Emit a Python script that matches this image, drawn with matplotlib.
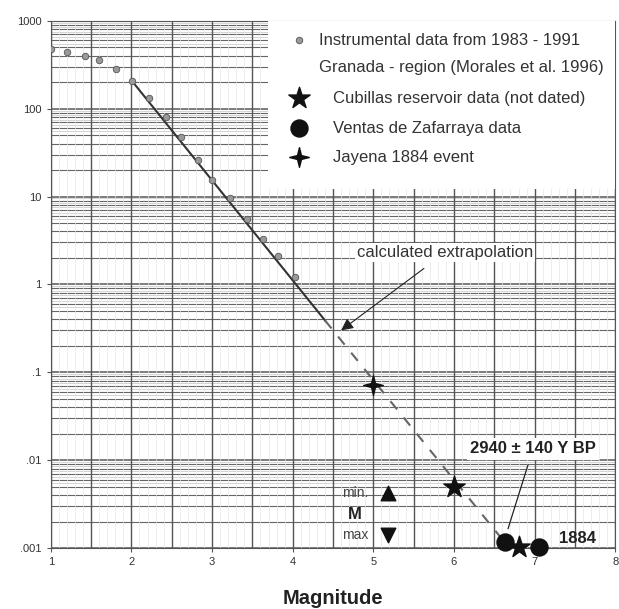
import numpy as np
import matplotlib.pyplot as plt
from matplotlib.patches import Rectangle
from matplotlib.path import Path

plt.rcParams['font.family'] = ['Liberation Sans', 'DejaVu Sans']

# instrumental data (Granada region)
inst_mag = [1.0, 1.2, 1.42, 1.6, 1.81, 2.01, 2.22, 2.43, 2.62, 2.82, 3.0, 3.22, 3.43, 3.63, 3.82, 4.03]
inst_n = [480, 435, 400, 360, 285, 205, 133, 81, 47, 26, 15.5, 9.7, 5.5, 3.3, 2.1, 1.2]

# fitted line and extrapolation
fit_mag = [2.0, 4.4]
fit_n = [210, 0.39]
extrap_mag = [4.4, 6.65]
extrap_n = [0.39, 0.0011]

# paleo data
cubillas_mag = [6.0, 6.8]
cubillas_n = [0.005, 0.00102]
ventas_mag = [6.63, 7.06]
ventas_n = [0.00117, 0.00104]
jayena_mag = [5.0]
jayena_n = [0.072]

ytick_vals = [1000, 100, 10, 1, 0.1, 0.01, 0.001]
ytick_labels = ['1000', '100', '10', '1', '.1', '.01', '.001']
xtick_vals = [1, 2, 3, 4, 5, 6, 7, 8]

star4 = Path([(0, 1), (0.2, 0.2), (1, 0), (0.2, -0.2), (0, -1), (-0.2, -0.2), (-1, 0), (-0.2, 0.2), (0, 1)],
             [Path.MOVETO] + [Path.LINETO] * 7 + [Path.CLOSEPOLY])

fig = plt.figure(figsize=(6.19, 6.09), dpi=100)
ax = fig.add_axes([0.082, 0.100, 0.912, 0.866])
ax.set_yscale('log')
ax.set_xlim(1, 8)
ax.set_ylim(0.001, 1000)

# graph paper grid
for dec in range(-3, 3):
    for k in range(1, 10):
        v = k * 10.0 ** dec
        ax.axhline(v, color='#666666', lw=0.8 if k > 1 else 1.2, zorder=1)
        if k >= 5:
            ax.axhline((k + 0.5) * 10.0 ** dec, color='#cccccc', lw=0.6, zorder=1)
for xv in np.arange(1.0, 8.01, 0.1):
    ax.axvline(xv, color='#e6e6e6', lw=0.5, zorder=1)
for xv in np.arange(1.0, 8.01, 0.5):
    ax.axvline(xv, color='#555555', lw=1.0, zorder=1)

# legend area
ax.add_patch(Rectangle((0.385, 0.68), 0.615, 0.32, transform=ax.transAxes,
                       facecolor='white', edgecolor='none', zorder=3))

ax.plot(fit_mag, fit_n, color='#333333', lw=1.5, zorder=4)
ax.plot(extrap_mag, extrap_n, color='#666666', lw=1.5, ls=(0, (5, 5)), zorder=4)
ax.scatter(inst_mag, inst_n, marker='o', s=22, c='#999999', edgecolors='#555555', lw=0.6, zorder=5)

ax.scatter(cubillas_mag, cubillas_n, marker='*', s=260, c='#111111', zorder=6, clip_on=False)
ax.scatter(ventas_mag, ventas_n, marker='o', s=150, c='#111111', zorder=6, clip_on=False)
ax.scatter(jayena_mag, jayena_n, marker=star4, s=200, c='#111111', zorder=6)

# min / M / max
ax.scatter([5.18], [0.0042], marker='^', s=110, c='#111111', zorder=6)
ax.scatter([5.18], [0.0014], marker='v', s=110, c='#111111', zorder=6)
ax.text(4.77, 0.0042, 'min.', fontsize=10, color='#444444', ha='center', va='center', zorder=6)
ax.text(4.77, 0.0024, 'M', fontsize=12, fontweight='bold', color='#222222', ha='center', va='center', zorder=6)
ax.text(4.77, 0.0014, 'max', fontsize=10, color='#444444', ha='center', va='center', zorder=6)

# annotations
ax.annotate('calculated extrapolation', xy=(4.6, 0.3), xytext=(5.89, 2.3),
            fontsize=12, color='#333333', ha='center', va='center', zorder=7,
            bbox=dict(boxstyle='square,pad=0.1', fc='white', ec='none'),
            arrowprops=dict(arrowstyle='-|>', color='#222222', lw=0.8, mutation_scale=18,
                            shrinkA=8, shrinkB=0))
ax.annotate('2940 ± 140 Y BP', xy=(6.67, 0.00166), xytext=(6.98, 0.0135),
            fontsize=12, fontweight='bold', color='#222222', ha='center', va='center', zorder=7,
            bbox=dict(boxstyle='square,pad=0.2', fc='white', ec='none'),
            arrowprops=dict(arrowstyle='-', color='#222222', lw=0.9, shrinkA=4, shrinkB=0))
ax.text(7.53, 0.00128, '1884', fontsize=12, fontweight='bold', color='#222222',
        ha='center', va='center', zorder=7)

# legend
lx = 0.44
ax.scatter([lx], [0.963], transform=ax.transAxes, marker='o', s=22, c='#999999',
           edgecolors='#555555', lw=0.6, zorder=8)
ax.scatter([lx], [0.853], transform=ax.transAxes, marker='*', s=260, c='#111111', zorder=8)
ax.scatter([lx], [0.796], transform=ax.transAxes, marker='o', s=150, c='#111111', zorder=8)
ax.scatter([lx], [0.741], transform=ax.transAxes, marker=star4, s=200, c='#111111', zorder=8)
ax.text(0.475, 0.963, 'Instrumental data from 1983 - 1991', transform=ax.transAxes,
        fontsize=12, color='#333333', va='center', zorder=8)
ax.text(0.475, 0.911, 'Granada - region (Morales et al. 1996)', transform=ax.transAxes,
        fontsize=12, color='#333333', va='center', zorder=8)
for yy, lab in [(0.853, 'Cubillas reservoir data (not dated)'),
                (0.796, 'Ventas de Zafarraya data'),
                (0.741, 'Jayena 1884 event')]:
    ax.text(0.5, yy, lab, transform=ax.transAxes, fontsize=12, color='#333333',
            va='center', zorder=8)

ax.set_yticks(ytick_vals)
ax.set_yticklabels(ytick_labels, fontsize=8, color='#333333')
ax.yaxis.set_minor_locator(plt.NullLocator())
ax.set_xticks(xtick_vals)
ax.set_xticklabels([str(v) for v in xtick_vals], fontsize=8, color='#333333')
ax.tick_params(length=3, color='#555555')
ax.set_xlabel('Magnitude', fontsize=14.5, fontweight='bold', color='#222222', labelpad=16)
for s in ax.spines.values():
    s.set_color('#555555')
    s.set_linewidth(0.8)

fig.savefig('out.png', dpi=100)
